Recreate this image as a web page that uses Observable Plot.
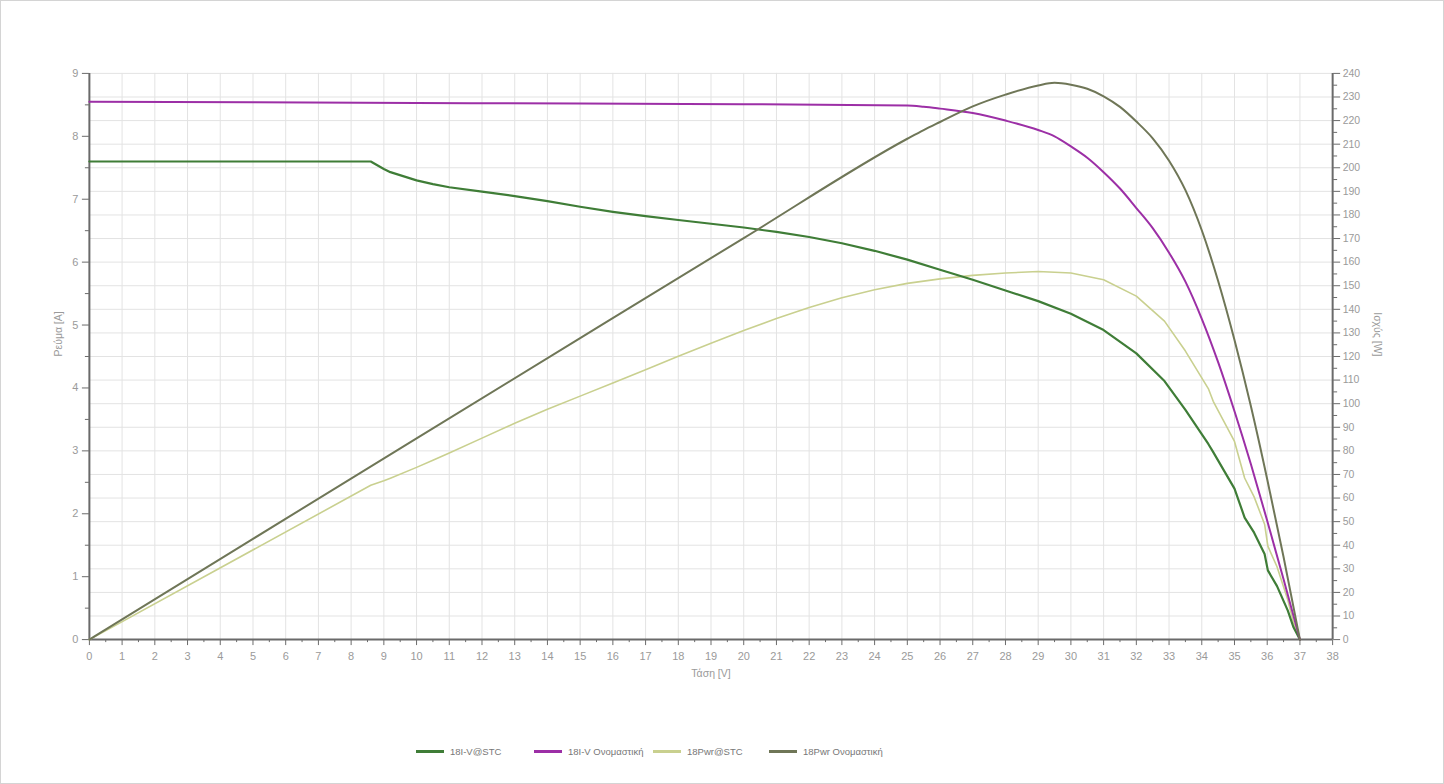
<!DOCTYPE html>
<html>
<head>
<meta charset="utf-8">
<script src="https://cdn.jsdelivr.net/npm/d3@7"></script>
<script src="https://cdn.jsdelivr.net/npm/@observablehq/plot@0.6"></script>
<style>
  html, body { margin: 0; padding: 0; background: #fff; }
  #frame {
    position: relative; width: 1444px; height: 784px; box-sizing: border-box;
    border: 1px solid #d4d4d4; background: #fff; overflow: hidden;
    font-family: "Liberation Sans", Arial, sans-serif;
  }
  #chart { position: absolute; left: 0; top: 0; }
  .legend-item { position: absolute; top: 742px; height: 16px; display: flex; align-items: center;
    font-size: 9.5px; color: #777; white-space: nowrap; }
  .legend-item .sw { display: inline-block; width: 28px; height: 3px; margin-right: 6px; }
</style>
</head>
<body>
<div id="frame">
  <div id="chart"></div>
  <div id="legend"></div>
</div>
<script>
// Series names and colours
const seriesNames  = ["18I-V@STC", "18I-V Ονομαστική", "18Pwr@STC", "18Pwr Ονομαστική"];
const seriesColors = ["#3f7d37", "#9c2fa6", "#c9d08f", "#6f7657"];

// Measured I-V / P-V at STC (V, A, W)
const stcVoltage = [0, 8.6, 9, 9.2, 10, 10.5, 11, 12, 13, 14, 15, 16, 17, 18, 19, 20, 21, 22, 23, 24, 25, 26, 27, 28, 29, 30, 31, 32, 32.86, 33.5, 34.2, 34.35, 35, 35.31, 35.6, 35.92, 36.02, 36.3, 36.63, 36.8, 37];
const stcCurrent = [7.6, 7.6, 7.48, 7.43, 7.3, 7.24, 7.19, 7.12, 7.05, 6.97, 6.88, 6.8, 6.73, 6.67, 6.61, 6.55, 6.48, 6.4, 6.3, 6.18, 6.04, 5.88, 5.72, 5.55, 5.38, 5.18, 4.92, 4.55, 4.11, 3.65, 3.11, 2.98, 2.4, 1.94, 1.7, 1.36, 1.1, 0.85, 0.46, 0.2, 0];
const stcPower   = [0, 65.4, 67.3, 68.4, 73, 76, 79.1, 85.4, 91.7, 97.6, 103.2, 108.8, 114.4, 120.1, 125.6, 131, 136.1, 140.8, 144.9, 148.3, 151, 152.9, 154.4, 155.4, 156, 155.4, 152.5, 145.6, 135, 122.3, 106.4, 101, 84, 68.5, 60.5, 48.9, 39.6, 30.9, 16.8, 7.4, 0];

// Nominal I-V / P-V (V, A, W)
const nomVoltage = [0, 5, 10, 15, 20, 25, 25.5, 26, 27, 28, 29, 29.5, 30, 30.5, 31, 31.5, 32, 32.5, 33, 33.5, 34, 34.5, 35, 35.5, 36, 36.5, 37];
const nomCurrent = [8.55, 8.54, 8.53, 8.52, 8.51, 8.49, 8.47, 8.44, 8.37, 8.25, 8.1, 8.0, 7.84, 7.66, 7.43, 7.17, 6.86, 6.54, 6.15, 5.69, 5.1, 4.41, 3.63, 2.79, 1.89, 0.96, 0];
const nomPower   = [0, 42.7, 85.3, 127.8, 170.2, 212.3, 216, 219.4, 226, 231, 234.9, 236, 235.2, 233.5, 230.3, 225.8, 219.6, 212.5, 203, 190.5, 173.5, 152, 127, 99, 68, 35, 0];

// Axis ticks
const voltageTicks      = d3.range(0, 39, 1);
const voltageMinorTicks = d3.range(0.5, 38, 1);
const currentTicks      = d3.range(0, 10, 1);
const currentMinorTicks = d3.range(0.5, 9, 1);
const powerTicks        = d3.range(0, 250, 10);
const powerMinorTicks   = d3.range(5, 240, 10);

// The power axis (0–240 W) shares the vertical extent of the current axis (0–9 A)
const currentMax = 9, powerMax = 240;
const toCurrentUnits = (w) => w * currentMax / powerMax;

const rows = (vs, ys, series, scale = (d) => d) => vs.map((v, i) => ({V: v, y: scale(ys[i]), series}));
const stcIV  = rows(stcVoltage, stcCurrent, seriesNames[0]);
const nomIV  = rows(nomVoltage, nomCurrent, seriesNames[1]);
const stcPV  = rows(stcVoltage, stcPower, seriesNames[2], toCurrentUnits);
const nomPV  = rows(nomVoltage, nomPower, seriesNames[3], toCurrentUnits);

const axisStroke = "#6a6a6a";
const labelColor = "#9a9a9a";

const chart = Plot.plot({
  width: 1444,
  height: 700,
  marginLeft: 88,
  marginRight: 111,
  marginTop: 72,
  marginBottom: 61,
  x: {domain: [0, 38]},
  y: {domain: [0, currentMax]},
  style: {fontFamily: "Liberation Sans, Arial, sans-serif", fontSize: "11px", background: "transparent"},
  marks: [
    // grid
    Plot.gridX(voltageTicks, {stroke: "#e3e3e3", strokeOpacity: 1}),
    Plot.gridY(powerTicks.map(toCurrentUnits), {stroke: "#e3e3e3", strokeOpacity: 1}),

    // bottom axis
    Plot.axisX(voltageMinorTicks, {tickSize: 3, tickFormat: () => "", stroke: axisStroke, label: null}),
    Plot.axisX(voltageTicks, {tickSize: 6, tickPadding: 7, stroke: axisStroke, fill: labelColor, label: null}),
    // left axis
    Plot.axisY(currentMinorTicks, {anchor: "left", tickSize: 4, tickFormat: () => "", stroke: axisStroke, label: null}),
    Plot.axisY(currentTicks, {anchor: "left", tickSize: 7, tickPadding: 4, stroke: axisStroke, fill: labelColor,
      tickFormat: (d) => String(d), label: null}),
    // right axis (power)
    Plot.axisY(powerMinorTicks.map(toCurrentUnits), {anchor: "right", tickSize: 4, tickFormat: () => "", stroke: axisStroke, label: null}),
    Plot.axisY(powerTicks.map(toCurrentUnits), {anchor: "right", tickSize: 7, tickPadding: 3, stroke: axisStroke, fill: labelColor,
      fontSize: 10.5, tickFormat: (d) => String(Math.round(d * powerMax / currentMax)), label: null}),

    // axis lines
    Plot.ruleY([0], {stroke: axisStroke, strokeWidth: 2}),
    Plot.ruleX([0], {stroke: axisStroke, strokeWidth: 2}),
    Plot.ruleX([38], {stroke: axisStroke, strokeWidth: 2}),

    // axis titles
    Plot.text(["Ρεύμα [A]"], {frameAnchor: "left", dx: -31, rotate: -90, fill: labelColor, fontSize: 10.5}),
    Plot.text(["Ισχύς [W]"], {frameAnchor: "right", dx: 45, rotate: 90, fill: labelColor, fontSize: 10.5}),
    Plot.text(["Τάση [V]"], {frameAnchor: "bottom", dy: 37, fill: labelColor, fontSize: 10.5}),

    // curves
    Plot.line(stcPV, {x: "V", y: "y", stroke: seriesColors[2], strokeWidth: 1.6}),
    Plot.line(stcIV, {x: "V", y: "y", stroke: seriesColors[0], strokeWidth: 2.2}),
    Plot.line(nomIV, {x: "V", y: "y", curve: "monotone-x", stroke: seriesColors[1], strokeWidth: 2}),
    Plot.line(nomPV, {x: "V", y: "y", curve: "monotone-x", stroke: seriesColors[3], strokeWidth: 2})
  ]
});
document.getElementById("chart").appendChild(chart);

// Legend below the chart
const legendLeft = [415, 533, 652, 768];
const legend = document.getElementById("legend");
seriesNames.forEach((name, i) => {
  const item = document.createElement("div");
  item.className = "legend-item";
  item.style.left = legendLeft[i] + "px";
  const sw = document.createElement("span");
  sw.className = "sw";
  sw.style.background = seriesColors[i];
  item.appendChild(sw);
  item.appendChild(document.createTextNode(name));
  legend.appendChild(item);
});
</script>
</body>
</html>
